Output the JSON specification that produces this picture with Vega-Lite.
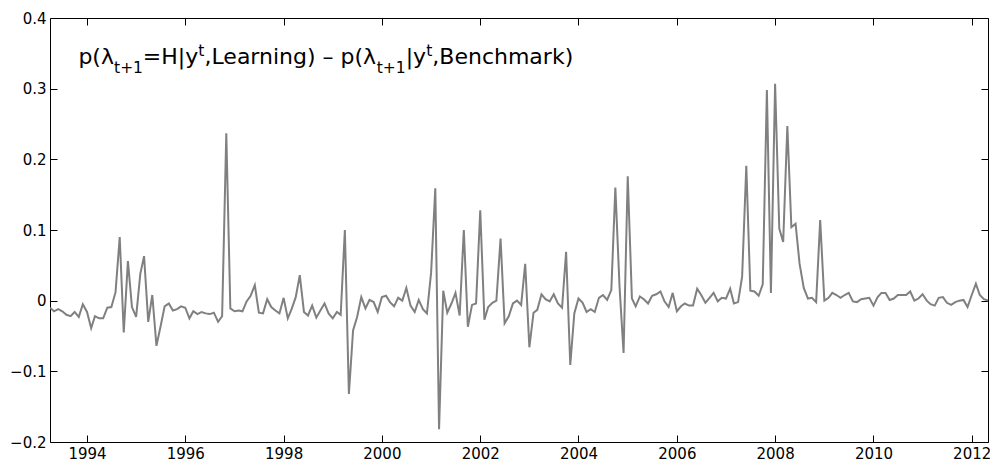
{
  "$schema": "https://vega.github.io/schema/vega-lite/v6.json",
  "width": 938,
  "height": 424,
  "autosize": {"type": "none"},
  "padding": {"left": 50, "top": 18, "right": 2, "bottom": 20},
  "background": "white",
  "config": {
    "view": {"stroke": "#000", "strokeWidth": 1},
    "axis": {
      "grid": false,
      "domain": false,
      "tickColor": "#000",
      "tickWidth": 1,
      "tickSize": -7,
      "labelFont": "DejaVu Sans",
      "labelFontSize": 15,
      "labelColor": "#000",
      "title": null
    },
    "text": {"font": "DejaVu Sans", "color": "#000"}
  },
  "datasets": {
    "series": [
      {"m": "1993-04-01", "v": -0.01}, {"m": "1993-05-01", "v": -0.015}, {"m": "1993-06-01", "v": -0.012},
      {"m": "1993-07-01", "v": -0.015}, {"m": "1993-08-01", "v": -0.02}, {"m": "1993-09-01", "v": -0.022},
      {"m": "1993-10-01", "v": -0.016}, {"m": "1993-11-01", "v": -0.023}, {"m": "1993-12-01", "v": -0.005},
      {"m": "1994-01-01", "v": -0.016}, {"m": "1994-02-01", "v": -0.039}, {"m": "1994-03-01", "v": -0.022},
      {"m": "1994-04-01", "v": -0.025}, {"m": "1994-05-01", "v": -0.025}, {"m": "1994-06-01", "v": -0.01},
      {"m": "1994-07-01", "v": -0.009}, {"m": "1994-08-01", "v": 0.012}, {"m": "1994-09-01", "v": 0.09},
      {"m": "1994-10-01", "v": -0.045}, {"m": "1994-11-01", "v": 0.056}, {"m": "1994-12-01", "v": -0.009},
      {"m": "1995-01-01", "v": -0.023}, {"m": "1995-02-01", "v": 0.038}, {"m": "1995-03-01", "v": 0.063},
      {"m": "1995-04-01", "v": -0.03}, {"m": "1995-05-01", "v": 0.008}, {"m": "1995-06-01", "v": -0.064},
      {"m": "1995-07-01", "v": -0.037}, {"m": "1995-08-01", "v": -0.008}, {"m": "1995-09-01", "v": -0.004},
      {"m": "1995-10-01", "v": -0.014}, {"m": "1995-11-01", "v": -0.012}, {"m": "1995-12-01", "v": -0.008},
      {"m": "1996-01-01", "v": -0.01}, {"m": "1996-02-01", "v": -0.025}, {"m": "1996-03-01", "v": -0.015},
      {"m": "1996-04-01", "v": -0.019}, {"m": "1996-05-01", "v": -0.016}, {"m": "1996-06-01", "v": -0.018},
      {"m": "1996-07-01", "v": -0.019}, {"m": "1996-08-01", "v": -0.017}, {"m": "1996-09-01", "v": -0.03},
      {"m": "1996-10-01", "v": -0.022}, {"m": "1996-11-01", "v": 0.237}, {"m": "1996-12-01", "v": -0.011},
      {"m": "1997-01-01", "v": -0.015}, {"m": "1997-02-01", "v": -0.014}, {"m": "1997-03-01", "v": -0.015},
      {"m": "1997-04-01", "v": -0.001}, {"m": "1997-05-01", "v": 0.007}, {"m": "1997-06-01", "v": 0.022},
      {"m": "1997-07-01", "v": -0.017}, {"m": "1997-08-01", "v": -0.018}, {"m": "1997-09-01", "v": 0.002},
      {"m": "1997-10-01", "v": -0.009}, {"m": "1997-11-01", "v": -0.014}, {"m": "1997-12-01", "v": -0.018},
      {"m": "1998-01-01", "v": 0.004}, {"m": "1998-02-01", "v": -0.025}, {"m": "1998-03-01", "v": -0.012},
      {"m": "1998-04-01", "v": 0.005}, {"m": "1998-05-01", "v": 0.036}, {"m": "1998-06-01", "v": -0.016},
      {"m": "1998-07-01", "v": -0.021}, {"m": "1998-08-01", "v": -0.007}, {"m": "1998-09-01", "v": -0.024},
      {"m": "1998-10-01", "v": -0.014}, {"m": "1998-11-01", "v": -0.004}, {"m": "1998-12-01", "v": -0.018},
      {"m": "1999-01-01", "v": -0.025}, {"m": "1999-02-01", "v": -0.016}, {"m": "1999-03-01", "v": -0.02},
      {"m": "1999-04-01", "v": 0.1}, {"m": "1999-05-01", "v": -0.132}, {"m": "1999-06-01", "v": -0.042},
      {"m": "1999-07-01", "v": -0.023}, {"m": "1999-08-01", "v": 0.005}, {"m": "1999-09-01", "v": -0.011},
      {"m": "1999-10-01", "v": 0.001}, {"m": "1999-11-01", "v": -0.002}, {"m": "1999-12-01", "v": -0.016},
      {"m": "2000-01-01", "v": 0.005}, {"m": "2000-02-01", "v": 0.007}, {"m": "2000-03-01", "v": -0.002},
      {"m": "2000-04-01", "v": -0.008}, {"m": "2000-05-01", "v": 0.004}, {"m": "2000-06-01", "v": 0.0},
      {"m": "2000-07-01", "v": 0.018}, {"m": "2000-08-01", "v": -0.007}, {"m": "2000-09-01", "v": -0.016},
      {"m": "2000-10-01", "v": 0.001}, {"m": "2000-11-01", "v": -0.012}, {"m": "2000-12-01", "v": -0.018},
      {"m": "2001-01-01", "v": 0.04}, {"m": "2001-02-01", "v": 0.159}, {"m": "2001-03-01", "v": -0.182},
      {"m": "2001-04-01", "v": 0.014}, {"m": "2001-05-01", "v": -0.017}, {"m": "2001-06-01", "v": -0.004},
      {"m": "2001-07-01", "v": 0.011}, {"m": "2001-08-01", "v": -0.021}, {"m": "2001-09-01", "v": 0.1},
      {"m": "2001-10-01", "v": -0.037}, {"m": "2001-11-01", "v": -0.006}, {"m": "2001-12-01", "v": -0.004},
      {"m": "2002-01-01", "v": 0.128}, {"m": "2002-02-01", "v": -0.027}, {"m": "2002-03-01", "v": -0.009},
      {"m": "2002-04-01", "v": -0.003}, {"m": "2002-05-01", "v": 0.0}, {"m": "2002-06-01", "v": 0.088},
      {"m": "2002-07-01", "v": -0.032}, {"m": "2002-08-01", "v": -0.022}, {"m": "2002-09-01", "v": -0.004},
      {"m": "2002-10-01", "v": 0.0}, {"m": "2002-11-01", "v": -0.006}, {"m": "2002-12-01", "v": 0.052},
      {"m": "2003-01-01", "v": -0.066}, {"m": "2003-02-01", "v": -0.017}, {"m": "2003-03-01", "v": -0.013},
      {"m": "2003-04-01", "v": 0.009}, {"m": "2003-05-01", "v": 0.002}, {"m": "2003-06-01", "v": -0.001},
      {"m": "2003-07-01", "v": 0.009}, {"m": "2003-08-01", "v": -0.004}, {"m": "2003-09-01", "v": -0.01},
      {"m": "2003-10-01", "v": 0.069}, {"m": "2003-11-01", "v": -0.091}, {"m": "2003-12-01", "v": -0.018},
      {"m": "2004-01-01", "v": 0.003}, {"m": "2004-02-01", "v": -0.003}, {"m": "2004-03-01", "v": -0.016},
      {"m": "2004-04-01", "v": -0.012}, {"m": "2004-05-01", "v": -0.016}, {"m": "2004-06-01", "v": 0.004},
      {"m": "2004-07-01", "v": 0.008}, {"m": "2004-08-01", "v": 0.001}, {"m": "2004-09-01", "v": 0.015},
      {"m": "2004-10-01", "v": 0.16}, {"m": "2004-11-01", "v": 0.02}, {"m": "2004-12-01", "v": -0.074},
      {"m": "2005-01-01", "v": 0.176}, {"m": "2005-02-01", "v": 0.003}, {"m": "2005-03-01", "v": -0.008},
      {"m": "2005-04-01", "v": 0.006}, {"m": "2005-05-01", "v": 0.002}, {"m": "2005-06-01", "v": -0.004},
      {"m": "2005-07-01", "v": 0.007}, {"m": "2005-08-01", "v": 0.009}, {"m": "2005-09-01", "v": 0.013},
      {"m": "2005-10-01", "v": -0.001}, {"m": "2005-11-01", "v": -0.009}, {"m": "2005-12-01", "v": 0.011},
      {"m": "2006-01-01", "v": -0.015}, {"m": "2006-02-01", "v": -0.008}, {"m": "2006-03-01", "v": -0.004},
      {"m": "2006-04-01", "v": -0.007}, {"m": "2006-05-01", "v": -0.007}, {"m": "2006-06-01", "v": 0.017},
      {"m": "2006-07-01", "v": 0.008}, {"m": "2006-08-01", "v": -0.003}, {"m": "2006-09-01", "v": 0.004},
      {"m": "2006-10-01", "v": 0.011}, {"m": "2006-11-01", "v": -0.001}, {"m": "2006-12-01", "v": 0.004},
      {"m": "2007-01-01", "v": 0.003}, {"m": "2007-02-01", "v": 0.017}, {"m": "2007-03-01", "v": -0.004},
      {"m": "2007-04-01", "v": -0.002}, {"m": "2007-05-01", "v": 0.034}, {"m": "2007-06-01", "v": 0.191},
      {"m": "2007-07-01", "v": 0.014}, {"m": "2007-08-01", "v": 0.013}, {"m": "2007-09-01", "v": 0.007},
      {"m": "2007-10-01", "v": 0.023}, {"m": "2007-11-01", "v": 0.298}, {"m": "2007-12-01", "v": 0.011},
      {"m": "2008-01-01", "v": 0.307}, {"m": "2008-02-01", "v": 0.102}, {"m": "2008-03-01", "v": 0.083},
      {"m": "2008-04-01", "v": 0.247}, {"m": "2008-05-01", "v": 0.104}, {"m": "2008-06-01", "v": 0.109},
      {"m": "2008-07-01", "v": 0.052}, {"m": "2008-08-01", "v": 0.018}, {"m": "2008-09-01", "v": 0.003},
      {"m": "2008-10-01", "v": 0.004}, {"m": "2008-11-01", "v": -0.002}, {"m": "2008-12-01", "v": 0.114},
      {"m": "2009-01-01", "v": 0.0}, {"m": "2009-02-01", "v": 0.004}, {"m": "2009-03-01", "v": 0.011},
      {"m": "2009-04-01", "v": 0.008}, {"m": "2009-05-01", "v": 0.004}, {"m": "2009-06-01", "v": 0.008},
      {"m": "2009-07-01", "v": 0.011}, {"m": "2009-08-01", "v": -0.001}, {"m": "2009-09-01", "v": -0.002},
      {"m": "2009-10-01", "v": 0.002}, {"m": "2009-11-01", "v": 0.003}, {"m": "2009-12-01", "v": 0.004},
      {"m": "2010-01-01", "v": -0.007}, {"m": "2010-02-01", "v": 0.005}, {"m": "2010-03-01", "v": 0.011},
      {"m": "2010-04-01", "v": 0.011}, {"m": "2010-05-01", "v": 0.001}, {"m": "2010-06-01", "v": 0.003},
      {"m": "2010-07-01", "v": 0.008}, {"m": "2010-08-01", "v": 0.008}, {"m": "2010-09-01", "v": 0.008},
      {"m": "2010-10-01", "v": 0.013}, {"m": "2010-11-01", "v": 0.0}, {"m": "2010-12-01", "v": 0.003},
      {"m": "2011-01-01", "v": 0.009}, {"m": "2011-02-01", "v": 0.0}, {"m": "2011-03-01", "v": -0.005},
      {"m": "2011-04-01", "v": -0.007}, {"m": "2011-05-01", "v": 0.004}, {"m": "2011-06-01", "v": 0.005},
      {"m": "2011-07-01", "v": -0.003}, {"m": "2011-08-01", "v": -0.006}, {"m": "2011-09-01", "v": -0.002},
      {"m": "2011-10-01", "v": 0.0}, {"m": "2011-11-01", "v": 0.001}, {"m": "2011-12-01", "v": -0.009},
      {"m": "2012-01-01", "v": 0.008}, {"m": "2012-02-01", "v": 0.024}, {"m": "2012-03-01", "v": 0.008},
      {"m": "2012-04-01", "v": 0.002}, {"m": "2012-05-01", "v": 0.0}
    ],
    "label": [
      {"piece": "p(λ", "at": "1993-10-29", "level": "base"},
      {"piece": "t+1", "at": "1994-07-21", "level": "sub"},
      {"piece": "=H|y", "at": "1995-02-20", "level": "base"},
      {"piece": "t", "at": "1996-04-07", "level": "sup"},
      {"piece": ",Learning) – p(λ", "at": "1996-05-23", "level": "base"},
      {"piece": "t+1", "at": "1999-11-24", "level": "sub"},
      {"piece": "|y", "at": "2000-06-26", "level": "base"},
      {"piece": "t", "at": "2000-11-25", "level": "sup"},
      {"piece": ",Benchmark)", "at": "2001-01-10", "level": "base"}
    ]
  },
  "layer": [
    {
      "data": {"name": "series"},
      "mark": {"type": "line", "color": "#808080", "strokeWidth": 2, "clip": true},
      "encoding": {
        "x": {
          "field": "m", "type": "temporal",
          "scale": {"type": "utc", "domain": [{"year": 1993, "month": 4, "date": 1, "utc": true}, {"year": 2012, "month": 5, "date": 1, "utc": true}]},
          "axis": {
            "orient": "bottom", "format": "%Y", "formatType": "utc", "labelPadding": 11,
            "values": [
              {"year": 1994, "month": 1, "date": 1, "utc": true}, {"year": 1996, "month": 1, "date": 1, "utc": true},
              {"year": 1998, "month": 1, "date": 1, "utc": true}, {"year": 2000, "month": 1, "date": 1, "utc": true},
              {"year": 2002, "month": 1, "date": 1, "utc": true}, {"year": 2004, "month": 1, "date": 1, "utc": true},
              {"year": 2006, "month": 1, "date": 1, "utc": true}, {"year": 2008, "month": 1, "date": 1, "utc": true},
              {"year": 2010, "month": 1, "date": 1, "utc": true}, {"year": 2012, "month": 1, "date": 1, "utc": true}
            ]
          }
        },
        "y": {
          "field": "v", "type": "quantitative",
          "scale": {"domain": [-0.2, 0.4], "nice": false, "zero": false},
          "axis": {"orient": "left", "values": [-0.2, -0.1, 0, 0.1, 0.2, 0.3, 0.4], "format": "~g", "labelPadding": 11}
        }
      }
    },
    {
      "data": {"name": "series"},
      "mark": {"type": "line", "strokeOpacity": 0},
      "encoding": {
        "x": {
          "field": "m", "type": "temporal",
          "axis": {
            "orient": "top", "labels": false,
            "values": [
              {"year": 1994, "month": 1, "date": 1, "utc": true}, {"year": 1996, "month": 1, "date": 1, "utc": true},
              {"year": 1998, "month": 1, "date": 1, "utc": true}, {"year": 2000, "month": 1, "date": 1, "utc": true},
              {"year": 2002, "month": 1, "date": 1, "utc": true}, {"year": 2004, "month": 1, "date": 1, "utc": true},
              {"year": 2006, "month": 1, "date": 1, "utc": true}, {"year": 2008, "month": 1, "date": 1, "utc": true},
              {"year": 2010, "month": 1, "date": 1, "utc": true}, {"year": 2012, "month": 1, "date": 1, "utc": true}
            ]
          }
        },
        "y": {
          "field": "v", "type": "quantitative",
          "axis": {"orient": "right", "labels": false, "values": [-0.2, -0.1, 0, 0.1, 0.2, 0.3, 0.4]}
        }
      }
    },
    {
      "data": {"name": "label"},
      "transform": [{"filter": "datum.level === 'base'"}],
      "mark": {"type": "text", "align": "left", "baseline": "alphabetic", "fontSize": 22},
      "encoding": {
        "x": {"field": "at", "type": "temporal", "axis": null},
        "y": {"datum": 0.335, "type": "quantitative", "axis": null},
        "text": {"field": "piece"}
      }
    },
    {
      "data": {"name": "label"},
      "transform": [{"filter": "datum.level === 'sub'"}],
      "mark": {"type": "text", "align": "left", "baseline": "alphabetic", "fontSize": 15.5, "dy": 9},
      "encoding": {
        "x": {"field": "at", "type": "temporal", "axis": null},
        "y": {"datum": 0.335, "type": "quantitative", "axis": null},
        "text": {"field": "piece"}
      }
    },
    {
      "data": {"name": "label"},
      "transform": [{"filter": "datum.level === 'sup'"}],
      "mark": {"type": "text", "align": "left", "baseline": "alphabetic", "fontSize": 15.5, "dy": -8},
      "encoding": {
        "x": {"field": "at", "type": "temporal", "axis": null},
        "y": {"datum": 0.335, "type": "quantitative", "axis": null},
        "text": {"field": "piece"}
      }
    }
  ],
  "resolve": {"axis": {"x": "independent", "y": "independent"}}
}
